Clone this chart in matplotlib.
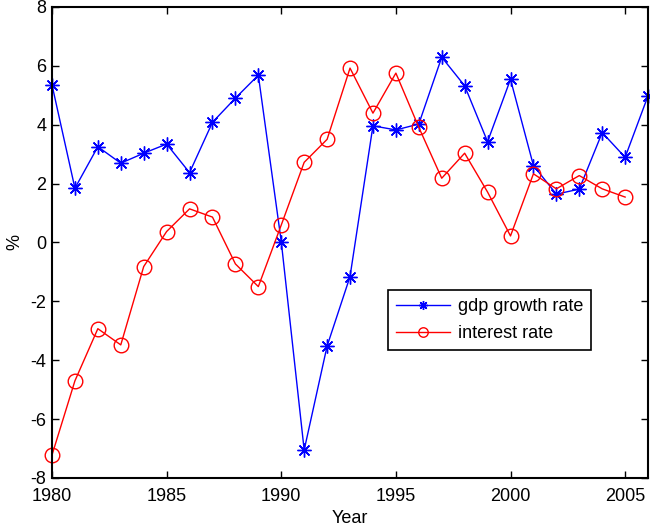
import matplotlib
matplotlib.use("Agg")
import matplotlib.pyplot as plt

years_gdp = list(range(1980, 2007))
gdp_growth = [5.35, 1.84, 3.25, 2.69, 3.03, 3.34, 2.37, 4.08, 4.90, 5.68,
              0.03, -7.05, -3.52, -1.16, 3.96, 3.82, 4.02, 6.29, 5.32, 3.42,
              5.54, 2.61, 1.64, 1.81, 3.73, 2.89, 4.98]

years_ir = list(range(1980, 2006))
interest = [-7.22, -4.70, -2.93, -3.48, -0.82, 0.37, 1.14, 0.86, -0.73, -1.50,
            0.59, 2.72, 3.50, 5.92, 4.39, 5.75, 3.91, 2.18, 3.03, 1.71,
            0.22, 2.33, 1.82, 2.27, 1.82, 1.54]

xticks = [1980, 1985, 1990, 1995, 2000, 2005]
yticks = [-8, -6, -4, -2, 0, 2, 4, 6, 8]

plt.rcParams['font.family'] = ['Liberation Sans', 'DejaVu Sans']
plt.rcParams['font.size'] = 13
plt.rcParams['axes.unicode_minus'] = False

fig = plt.figure(figsize=(6.5, 5.27), dpi=100)
ax = fig.add_axes([0.08, 0.093, 0.917, 0.894])

# asterisk marker: 8 spokes (plus and cross combined)
star = (8, 2, 0)
ax.plot(years_gdp, gdp_growth, color='blue', linewidth=1.0, marker=star,
        markersize=10, markeredgewidth=1.0, label='gdp growth rate', clip_on=False)
ax.plot(years_ir, interest, color='red', linewidth=1.0, marker='o',
        markersize=10.5, markerfacecolor='none', markeredgewidth=1.0,
        label='interest rate', clip_on=False)

ax.set_xlim(1980, 2006)
ax.set_ylim(-8, 8)
ax.set_xticks(xticks)
ax.set_yticks(yticks)
ax.tick_params(direction='in', top=True, right=True, length=5, width=1,
               labelsize=13)
ax.tick_params(axis='x', pad=7)
ax.tick_params(axis='y', pad=4)
for s in ax.spines.values():
    s.set_linewidth(1.5)

ax.set_xlabel('Year', fontsize=13, labelpad=4)
ax.set_ylabel('%', fontsize=13, labelpad=5)

leg = ax.legend(loc='upper left', bbox_to_anchor=(388 / 650, 1 - 290 / 527),
                bbox_transform=fig.transFigure, fancybox=False, framealpha=1,
                edgecolor='black', fontsize=13, handlelength=3.0,
                markerscale=0.65,
                borderpad=0.45, labelspacing=0.55, handletextpad=0.4,
                borderaxespad=0)
leg.get_frame().set_linewidth(1.2)

fig.savefig('out.png', dpi=100)
